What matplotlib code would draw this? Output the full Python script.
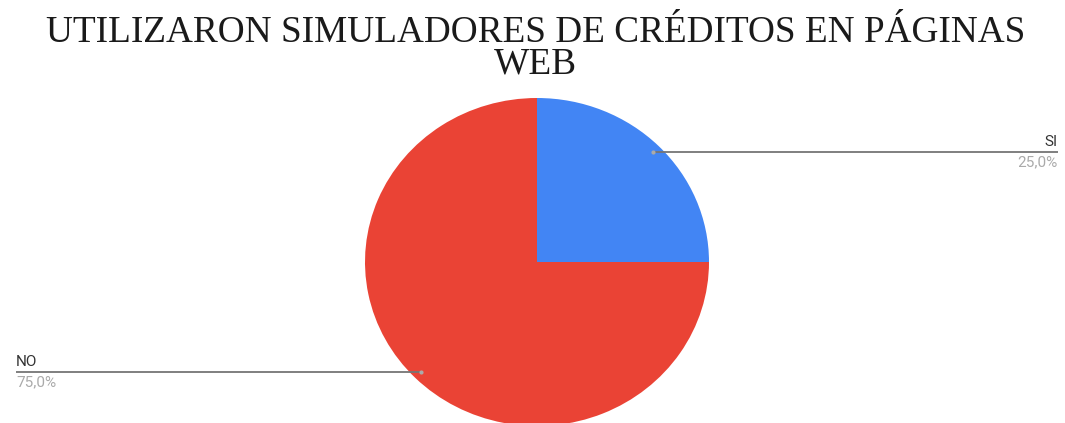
import numpy as np
import matplotlib.pyplot as plt

# datos de la encuesta
categorias = ['SI', 'NO']
porcentajes = [25.0, 75.0]
colores = ['#4285f4', '#ea4335']
titulo = 'UTILIZARON SIMULADORES DE CRÉDITOS EN PÁGINAS\nWEB'

W, H = 1065, 423
fig = plt.figure(figsize=(W / 100, H / 100), dpi=100)

# geometría del pastel en píxeles (centro y radios)
cx, cy = 537, 262
rx, ry = 172, 164

# eje del pastel (un poco achatado, como en la imagen)
ax = fig.add_axes([(cx - rx) / W, 1 - (cy + ry) / H, 2 * rx / W, 2 * ry / H])
ax.pie(porcentajes, colors=colores, startangle=90, counterclock=False,
       radius=1, wedgeprops=dict(linewidth=0))
ax.set_xlim(-1, 1)
ax.set_ylim(-1, 1)
ax.set_aspect('auto')
ax.axis('off')

# eje de superposición en coordenadas de píxeles
ov = fig.add_axes([0, 0, 1, 1], zorder=5)
ov.set_xlim(0, W)
ov.set_ylim(H, 0)
ov.axis('off')

fig.text(0.5 + 3 / W, 1 - 16 / H, titulo, ha='center', va='top', fontsize=26.8,
         family='Liberation Serif', color='#1a1a1a', linespacing=0.88)

# líneas guía y etiquetas
inicio = 90.0
for cat, val in zip(categorias, porcentajes):
    ang = np.deg2rad(inicio - val * 3.6 / 2)
    inicio -= val * 3.6
    px = cx + 0.95 * rx * np.cos(ang)
    py = cy - 0.95 * ry * np.sin(ang)
    if np.cos(ang) >= 0:
        x_fin, ha = 1058, 'right'
    else:
        x_fin, ha = 16, 'left'
    ov.plot([px, x_fin], [py, py], color='#757575', lw=1.3, solid_capstyle='butt')
    ov.plot(px, py, 'o', ms=3, color='#aaaaaa', mec='none')
    ov.text(x_fin, py - 3, cat, ha=ha, va='bottom', fontsize=11,
            family='Roboto', color='#333333')
    ov.text(x_fin, py + 3, f'{val:.1f}%'.replace('.', ','), ha=ha, va='top',
            fontsize=11, family='Roboto', color='#aaaaaa')

fig.savefig('out.png', dpi=100, facecolor='white')
